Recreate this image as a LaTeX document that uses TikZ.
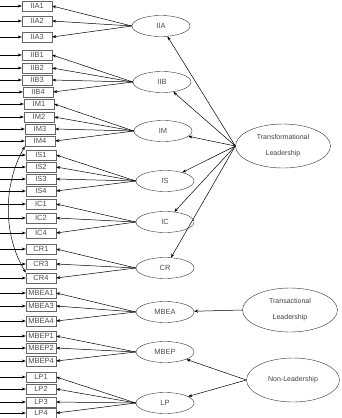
\documentclass[tikz,border=0pt]{standalone}
\usepackage{fontspec}
\setmainfont{Liberation Sans}
\usetikzlibrary{arrows.meta,shapes.geometric}
\begin{document}
\begin{tikzpicture}[x=1pt,y=-1pt,
  ind/.style={draw=black!60, line width=0.4pt, minimum width=30pt, minimum height=10.5pt, inner sep=0pt, font=\fontsize{7.5}{8}\selectfont, text=black!70},
  lat/.style={ellipse, draw=black!80, line width=0.4pt, minimum width=58pt, minimum height=21pt, inner sep=0pt, font=\fontsize{7.5}{8}\selectfont, text=black!70},
  big/.style={ellipse, draw=black!80, line width=0.4pt, minimum width=95pt, minimum height=44pt, inner sep=0pt, align=center, font=\fontsize{7}{16}\selectfont, text=black!75},
  arr/.style={-{Stealth[length=4pt,width=3pt]}, line width=0.5pt}]
\useasboundingbox (0,0) rectangle (341,418);

% indicator boxes
\foreach \n/\x/\y in {IIA1/37/6, IIA2/37/21, IIA3/37/37,
  IIB1/37/55, IIB2/37/68, IIB3/37/80, IIB4/38/92,
  IM1/39/104, IM2/39/117, IM3/40/129, IM4/40/141,
  IS1/41/155, IS2/41/167, IS3/41/179, IS4/41/191,
  IC1/41/204, IC2/41/218, IC4/41/233,
  CR1/41/249, CR3/41/264, CR4/41/278,
  MBEA1/41/293, MBEA3/41/306, MBEA4/41/321,
  MBEP1/41/336, MBEP2/41/348, MBEP4/41/361,
  LP1/41/377, LP2/41/389, LP3/41/402, LP4/41/413}{
  \node[ind] (\n) at (\x,\y) {\n};
  \coordinate (e\n) at (0,\y);
  \draw[arr] (e\n) -- (\n.west);
}

% first-order latent factors
\node[lat] (IIA) at (161,26) {IIA};
\node[lat] (IIB) at (162,82) {IIB};
\node[lat] (IM) at (163,131) {IM};
\node[lat] (IS) at (165,181) {IS};
\node[lat] (IC) at (165,222) {IC};
\node[lat] (CR) at (165,268) {CR};
\node[lat] (MBEA) at (165,312) {MBEA};
\node[lat] (MBEP) at (165,352) {MBEP};
\node[lat] (LP) at (165,403) {LP};

% second-order factors
\node[big] (TF) at (283,146) {Transformational\\Leadership};
\node[big] (TA) at (290,310) {Transactional\\Leadership};
\node[big, minimum width=93pt] (NL) at (293,380) {Non-Leadership};

% loadings
\foreach \f/\list in {IIA/{IIA1,IIA2,IIA3}, IIB/{IIB1,IIB2,IIB3,IIB4},
  IM/{IM1,IM2,IM3,IM4}, IS/{IS1,IS2,IS3,IS4}, IC/{IC1,IC2,IC4},
  CR/{CR1,CR3,CR4}, MBEA/{MBEA1,MBEA3,MBEA4}, MBEP/{MBEP1,MBEP2,MBEP4},
  LP/{LP1,LP2,LP3,LP4}}{
  \foreach \b in \list {\draw[arr] (\f.west) -- (\b.east);}
}

\foreach \f in {IIA,IIB,IM,IS,IC,CR}{\draw[arr] (TF.west) -- (\f);}
\draw[arr] (TA.west) -- (MBEA);
\draw[arr] (NL.west) -- (MBEP);
\draw[arr] (NL.west) -- (LP);

% correlation
\draw[{Stealth[length=4pt,width=3pt]}-{Stealth[length=4pt,width=3pt]}, line width=0.5pt]
  (IM4.south west) .. controls (3,185) and (3,235) .. (CR4.north west);
\end{tikzpicture}
\end{document}
